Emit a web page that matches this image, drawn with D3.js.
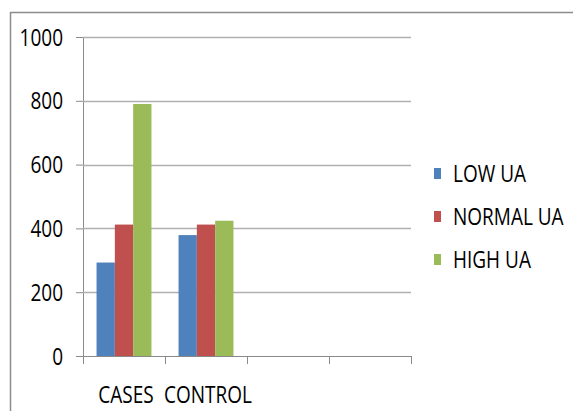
<!DOCTYPE html>
<html>
<head>
<meta charset="utf-8">
<script src="https://cdn.jsdelivr.net/npm/d3@7"></script>
<style>
  html, body { margin: 0; padding: 0; background: #fff; }
  svg { display: block; }
</style>
</head>
<body>
<svg id="chart" width="573" height="411"></svg>
<script>
// Uric acid groups per study arm
const categories = ["CASES", "CONTROL", "", ""];
const seriesNames = ["LOW UA", "NORMAL UA", "HIGH UA"];
const lowUA = [293, 379];
const normalUA = [412, 412];
const highUA = [790, 424];
const yTicks = [0, 200, 400, 600, 800, 1000];
const colors = ["#4f81bd", "#c0504d", "#9bbb59"];

const seriesValues = [lowUA, normalUA, highUA];

const svg = d3.select("#chart");
const font = "'Open Sans', 'Liberation Sans', sans-serif";
const fontSize = 19;
const stretch = 1.25;   // tall, narrow lettering

// text helper: baseline-anchored, vertically stretched
function label(parent, x, baseline, str, anchor) {
  return parent.append("text")
    .attr("transform", `translate(${x},${baseline}) scale(1,${stretch})`)
    .attr("text-anchor", anchor || "start")
    .attr("font-family", font).attr("font-size", fontSize).attr("fill", "#000")
    .text(str);
}

const margin = { left: 83, right: 162, top: 37, bottom: 55 };
const W = 573, H = 411;

// outer frame (top and left edges)
svg.append("line").attr("x1", 10.5).attr("x2", 573).attr("y1", 12.5).attr("y2", 12.5)
  .attr("stroke", "#8c8c8c").attr("stroke-width", 1.5);
svg.append("line").attr("x1", 10.5).attr("x2", 10.5).attr("y1", 12).attr("y2", 411)
  .attr("stroke", "#8c8c8c").attr("stroke-width", 1.5);

const x0 = d3.scaleBand()
  .domain(d3.range(categories.length))
  .range([margin.left, W - margin.right])
  .paddingInner(0).paddingOuter(0);

const x1 = d3.scaleBand()
  .domain(d3.range(seriesNames.length))
  .range([0, x0.bandwidth()])
  .paddingOuter(0.74).paddingInner(0);

const y = d3.scaleLinear().domain([0, 1000]).range([H - margin.bottom, margin.top]);

// y axis with tick marks; labels drawn separately
const yAxis = d3.axisLeft(y).tickValues(yTicks).tickSize(7).tickFormat("");
const gy = svg.append("g").attr("transform", `translate(${margin.left},0)`).call(yAxis);
gy.select(".domain").attr("stroke", "#8a8a8a");
gy.selectAll(".tick line").attr("stroke", "#8a8a8a");

const yLabels = svg.append("g");
yTicks.forEach(t => label(yLabels, 63, y(t) + 8.5, d3.format("d")(t), "end"));

// horizontal gridlines
svg.append("g").selectAll("line").data(yTicks.filter(d => d > 0)).join("line")
  .attr("x1", margin.left).attr("x2", W - margin.right)
  .attr("y1", d => Math.round(y(d)) + 0.5).attr("y2", d => Math.round(y(d)) + 0.5)
  .attr("stroke", "#b0b0b0").attr("stroke-width", 1.5);

// bars
const groups = svg.append("g").selectAll("g")
  .data(categories.slice(0, lowUA.length))
  .join("g")
  .attr("transform", (d, i) => `translate(${x0(i)},0)`);

groups.selectAll("rect")
  .data((d, i) => seriesValues.map((vals, s) => ({ s, v: vals[i] })))
  .join("rect")
  .attr("x", d => x1(d.s))
  .attr("width", x1.bandwidth())
  .attr("y", d => y(d.v))
  .attr("height", d => y(0) - y(d.v))
  .attr("fill", d => colors[d.s]);

// x axis baseline and category dividers
svg.append("line").attr("x1", margin.left - 7).attr("x2", W - margin.right)
  .attr("y1", Math.round(y(0)) + 0.5).attr("y2", Math.round(y(0)) + 0.5)
  .attr("stroke", "#8a8a8a");
const boundaries = d3.range(categories.length + 1).map(i => margin.left + i * x0.bandwidth());
svg.append("g").selectAll("line").data(boundaries).join("line")
  .attr("x1", d => Math.round(d) + 0.5).attr("x2", d => Math.round(d) + 0.5)
  .attr("y1", y(0)).attr("y2", y(0) + 8)
  .attr("stroke", "#8a8a8a");

const xLabels = svg.append("g");
categories.forEach((c, i) => {
  if (c) label(xLabels, x0(i) + x0.bandwidth() / 2 + 2, 402.5, c, "middle");
});

// legend
const legend = svg.append("g");
seriesNames.forEach((name, i) => {
  const cy = 173.5 + i * 43;
  legend.append("rect").attr("x", 434).attr("y", cy - 5.5).attr("width", 7).attr("height", 11)
    .attr("fill", colors[i]);
  label(legend, 453, cy + 8.3, name);
});
</script>
</body>
</html>
